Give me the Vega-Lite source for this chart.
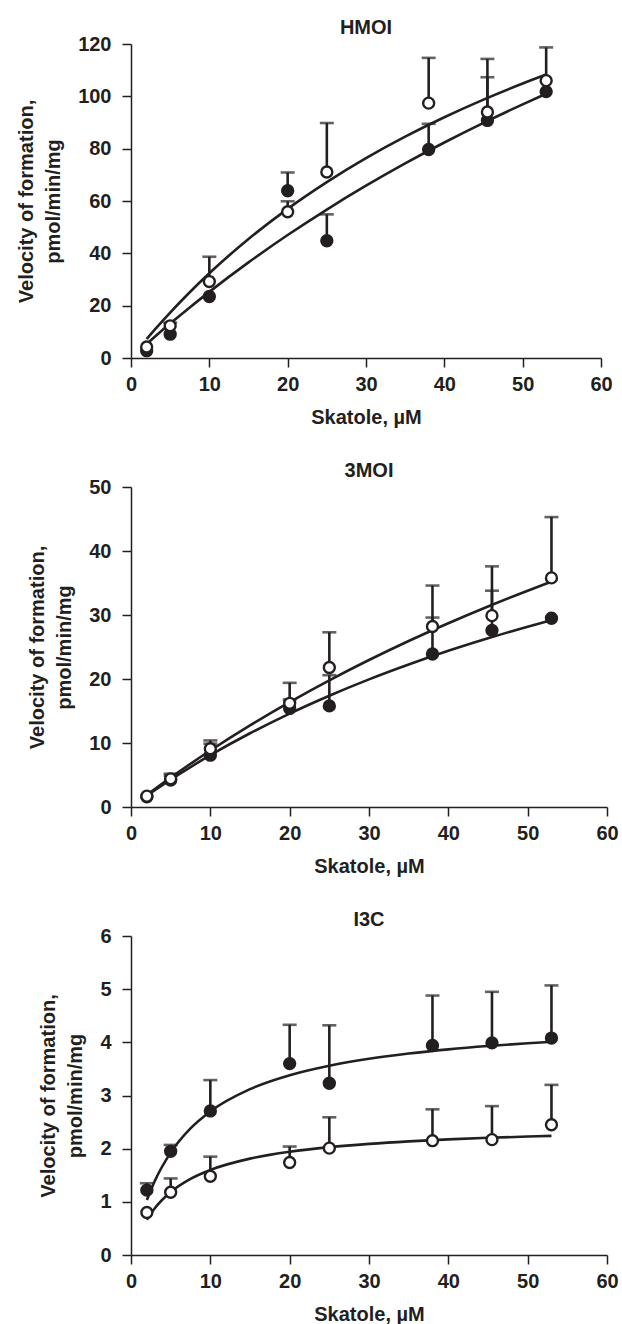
{
  "$schema": "https://vega.github.io/schema/vega-lite/v6.json",
  "padding": {"left": 16, "top": 18, "right": 4, "bottom": 0},
  "background": "white",
  "spacing": 34,
  "datasets": {
    "points": [
      {"panel": "HMOI", "series": "filled", "x": 2, "y": 2.8, "top": null},
      {"panel": "HMOI", "series": "filled", "x": 5, "y": 9.1, "top": null},
      {"panel": "HMOI", "series": "filled", "x": 10, "y": 23.5, "top": null},
      {"panel": "HMOI", "series": "filled", "x": 20, "y": 63.9, "top": 70.9},
      {"panel": "HMOI", "series": "filled", "x": 25, "y": 44.8, "top": 54.9},
      {"panel": "HMOI", "series": "filled", "x": 38, "y": 79.7, "top": 89.5},
      {"panel": "HMOI", "series": "filled", "x": 45.5, "y": 90.8, "top": 107.3},
      {"panel": "HMOI", "series": "filled", "x": 53, "y": 101.8, "top": null},
      {"panel": "HMOI", "series": "open", "x": 2, "y": 4.2, "top": null},
      {"panel": "HMOI", "series": "open", "x": 5, "y": 12.3, "top": 13.5},
      {"panel": "HMOI", "series": "open", "x": 10, "y": 29.2, "top": 38.7},
      {"panel": "HMOI", "series": "open", "x": 20, "y": 55.9, "top": 59.9},
      {"panel": "HMOI", "series": "open", "x": 25, "y": 71.1, "top": 89.8},
      {"panel": "HMOI", "series": "open", "x": 38, "y": 97.4, "top": 114.7},
      {"panel": "HMOI", "series": "open", "x": 45.5, "y": 94.0, "top": 114.3},
      {"panel": "HMOI", "series": "open", "x": 53, "y": 106.0, "top": 118.7},
      {"panel": "3MOI", "series": "filled", "x": 2, "y": 1.6, "top": null},
      {"panel": "3MOI", "series": "filled", "x": 5, "y": 4.2, "top": 4.9},
      {"panel": "3MOI", "series": "filled", "x": 10, "y": 8.1, "top": 9.9},
      {"panel": "3MOI", "series": "filled", "x": 20, "y": 15.4, "top": 16.8},
      {"panel": "3MOI", "series": "filled", "x": 25, "y": 15.8, "top": 20.6},
      {"panel": "3MOI", "series": "filled", "x": 38, "y": 23.9, "top": 29.6},
      {"panel": "3MOI", "series": "filled", "x": 45.5, "y": 27.6, "top": 33.8},
      {"panel": "3MOI", "series": "filled", "x": 53, "y": 29.5, "top": null},
      {"panel": "3MOI", "series": "open", "x": 2, "y": 1.7, "top": null},
      {"panel": "3MOI", "series": "open", "x": 5, "y": 4.4, "top": 5.2},
      {"panel": "3MOI", "series": "open", "x": 10, "y": 9.1, "top": 10.4},
      {"panel": "3MOI", "series": "open", "x": 20, "y": 16.2, "top": 19.4},
      {"panel": "3MOI", "series": "open", "x": 25, "y": 21.8, "top": 27.3},
      {"panel": "3MOI", "series": "open", "x": 38, "y": 28.2, "top": 34.6},
      {"panel": "3MOI", "series": "open", "x": 45.5, "y": 29.9, "top": 37.6},
      {"panel": "3MOI", "series": "open", "x": 53, "y": 35.8, "top": 45.3},
      {"panel": "I3C", "series": "filled", "x": 2, "y": 1.22, "top": 1.35},
      {"panel": "I3C", "series": "filled", "x": 5, "y": 1.95, "top": 2.07},
      {"panel": "I3C", "series": "filled", "x": 10, "y": 2.71, "top": 3.29},
      {"panel": "I3C", "series": "filled", "x": 20, "y": 3.6, "top": 4.33},
      {"panel": "I3C", "series": "filled", "x": 25, "y": 3.23, "top": 4.32},
      {"panel": "I3C", "series": "filled", "x": 38, "y": 3.94, "top": 4.88},
      {"panel": "I3C", "series": "filled", "x": 45.5, "y": 3.99, "top": 4.95},
      {"panel": "I3C", "series": "filled", "x": 53, "y": 4.08, "top": 5.07},
      {"panel": "I3C", "series": "open", "x": 2, "y": 0.8, "top": null},
      {"panel": "I3C", "series": "open", "x": 5, "y": 1.18, "top": 1.44},
      {"panel": "I3C", "series": "open", "x": 10, "y": 1.48, "top": 1.85},
      {"panel": "I3C", "series": "open", "x": 20, "y": 1.74, "top": 2.04},
      {"panel": "I3C", "series": "open", "x": 25, "y": 2.01, "top": 2.59},
      {"panel": "I3C", "series": "open", "x": 38, "y": 2.15, "top": 2.74},
      {"panel": "I3C", "series": "open", "x": 45.5, "y": 2.17, "top": 2.8},
      {"panel": "I3C", "series": "open", "x": 53, "y": 2.45, "top": 3.2}
    ],
    "curves": [
      {"panel": "HMOI", "series": "filled", "x": 2, "y": 5.38},
      {"panel": "HMOI", "series": "filled", "x": 3, "y": 8.01},
      {"panel": "HMOI", "series": "filled", "x": 5, "y": 13.14},
      {"panel": "HMOI", "series": "filled", "x": 7.5, "y": 19.33},
      {"panel": "HMOI", "series": "filled", "x": 10, "y": 25.28},
      {"panel": "HMOI", "series": "filled", "x": 15, "y": 36.53},
      {"panel": "HMOI", "series": "filled", "x": 20, "y": 46.99},
      {"panel": "HMOI", "series": "filled", "x": 25, "y": 56.74},
      {"panel": "HMOI", "series": "filled", "x": 30, "y": 65.84},
      {"panel": "HMOI", "series": "filled", "x": 35, "y": 74.36},
      {"panel": "HMOI", "series": "filled", "x": 40, "y": 82.35},
      {"panel": "HMOI", "series": "filled", "x": 45, "y": 89.87},
      {"panel": "HMOI", "series": "filled", "x": 50, "y": 96.94},
      {"panel": "HMOI", "series": "filled", "x": 53, "y": 100.99},
      {"panel": "HMOI", "series": "open", "x": 2, "y": 7.27},
      {"panel": "HMOI", "series": "open", "x": 3, "y": 10.73},
      {"panel": "HMOI", "series": "open", "x": 5, "y": 17.37},
      {"panel": "HMOI", "series": "open", "x": 7.5, "y": 25.14},
      {"panel": "HMOI", "series": "open", "x": 10, "y": 32.38},
      {"panel": "HMOI", "series": "open", "x": 15, "y": 45.48},
      {"panel": "HMOI", "series": "open", "x": 20, "y": 57.01},
      {"panel": "HMOI", "series": "open", "x": 25, "y": 67.24},
      {"panel": "HMOI", "series": "open", "x": 30, "y": 76.38},
      {"panel": "HMOI", "series": "open", "x": 35, "y": 84.59},
      {"panel": "HMOI", "series": "open", "x": 40, "y": 92.01},
      {"panel": "HMOI", "series": "open", "x": 45, "y": 98.74},
      {"panel": "HMOI", "series": "open", "x": 50, "y": 104.89},
      {"panel": "HMOI", "series": "open", "x": 53, "y": 108.32},
      {"panel": "3MOI", "series": "filled", "x": 2, "y": 1.77},
      {"panel": "3MOI", "series": "filled", "x": 3, "y": 2.63},
      {"panel": "3MOI", "series": "filled", "x": 5, "y": 4.28},
      {"panel": "3MOI", "series": "filled", "x": 7.5, "y": 6.24},
      {"panel": "3MOI", "series": "filled", "x": 10, "y": 8.1},
      {"panel": "3MOI", "series": "filled", "x": 15, "y": 11.52},
      {"panel": "3MOI", "series": "filled", "x": 20, "y": 14.6},
      {"panel": "3MOI", "series": "filled", "x": 25, "y": 17.39},
      {"panel": "3MOI", "series": "filled", "x": 30, "y": 19.94},
      {"panel": "3MOI", "series": "filled", "x": 35, "y": 22.26},
      {"panel": "3MOI", "series": "filled", "x": 40, "y": 24.4},
      {"panel": "3MOI", "series": "filled", "x": 45, "y": 26.36},
      {"panel": "3MOI", "series": "filled", "x": 50, "y": 28.17},
      {"panel": "3MOI", "series": "filled", "x": 53, "y": 29.2},
      {"panel": "3MOI", "series": "open", "x": 2, "y": 1.88},
      {"panel": "3MOI", "series": "open", "x": 3, "y": 2.8},
      {"panel": "3MOI", "series": "open", "x": 5, "y": 4.59},
      {"panel": "3MOI", "series": "open", "x": 7.5, "y": 6.75},
      {"panel": "3MOI", "series": "open", "x": 10, "y": 8.83},
      {"panel": "3MOI", "series": "open", "x": 15, "y": 12.76},
      {"panel": "3MOI", "series": "open", "x": 20, "y": 16.4},
      {"panel": "3MOI", "series": "open", "x": 25, "y": 19.8},
      {"panel": "3MOI", "series": "open", "x": 30, "y": 22.97},
      {"panel": "3MOI", "series": "open", "x": 35, "y": 25.94},
      {"panel": "3MOI", "series": "open", "x": 40, "y": 28.72},
      {"panel": "3MOI", "series": "open", "x": 45, "y": 31.34},
      {"panel": "3MOI", "series": "open", "x": 50, "y": 33.8},
      {"panel": "3MOI", "series": "open", "x": 53, "y": 35.21},
      {"panel": "I3C", "series": "filled", "x": 2, "y": 1.034},
      {"panel": "I3C", "series": "filled", "x": 3, "y": 1.392},
      {"panel": "I3C", "series": "filled", "x": 5, "y": 1.925},
      {"panel": "I3C", "series": "filled", "x": 7.5, "y": 2.381},
      {"panel": "I3C", "series": "filled", "x": 10, "y": 2.7},
      {"panel": "I3C", "series": "filled", "x": 15, "y": 3.119},
      {"panel": "I3C", "series": "filled", "x": 20, "y": 3.381},
      {"panel": "I3C", "series": "filled", "x": 25, "y": 3.56},
      {"panel": "I3C", "series": "filled", "x": 30, "y": 3.691},
      {"panel": "I3C", "series": "filled", "x": 35, "y": 3.79},
      {"panel": "I3C", "series": "filled", "x": 40, "y": 3.868},
      {"panel": "I3C", "series": "filled", "x": 45, "y": 3.931},
      {"panel": "I3C", "series": "filled", "x": 50, "y": 3.983},
      {"panel": "I3C", "series": "filled", "x": 53, "y": 4.01},
      {"panel": "I3C", "series": "open", "x": 2, "y": 0.664},
      {"panel": "I3C", "series": "open", "x": 3, "y": 0.878},
      {"panel": "I3C", "series": "open", "x": 5, "y": 1.183},
      {"panel": "I3C", "series": "open", "x": 7.5, "y": 1.432},
      {"panel": "I3C", "series": "open", "x": 10, "y": 1.6},
      {"panel": "I3C", "series": "open", "x": 15, "y": 1.813},
      {"panel": "I3C", "series": "open", "x": 20, "y": 1.942},
      {"panel": "I3C", "series": "open", "x": 25, "y": 2.029},
      {"panel": "I3C", "series": "open", "x": 30, "y": 2.091},
      {"panel": "I3C", "series": "open", "x": 35, "y": 2.138},
      {"panel": "I3C", "series": "open", "x": 40, "y": 2.174},
      {"panel": "I3C", "series": "open", "x": 45, "y": 2.204},
      {"panel": "I3C", "series": "open", "x": 50, "y": 2.228},
      {"panel": "I3C", "series": "open", "x": 53, "y": 2.24}
    ]
  },
  "vconcat": [
    {
      "width": 470, "height": 314,
      "title": "HMOI",
      "encoding": {
        "x": {"field": "x", "type": "quantitative", "scale": {"domain": [0, 60], "nice": false}, "axis": {"values": [0, 10, 20, 30, 40, 50, 60], "title": "Skatole, µM"}},
        "y": {"field": "y", "type": "quantitative", "scale": {"domain": [0, 120], "nice": false}, "axis": {"values": [0, 20, 40, 60, 80, 100, 120], "title": ["Velocity of formation,", "pmol/min/mg"]}}
      },
      "layer": [
        {"data": {"name": "curves"}, "transform": [{"filter": "datum.panel === 'HMOI'"}], "mark": {"type": "line", "stroke": "#231f20", "strokeWidth": 2.6, "interpolate": "monotone"}, "encoding": {"detail": {"field": "series"}}},
        {"data": {"name": "points"}, "transform": [{"filter": "datum.panel === 'HMOI' && isValid(datum.top)"}], "mark": {"type": "rule", "stroke": "#231f20", "strokeWidth": 2.6}, "encoding": {"y2": {"field": "top"}}},
        {"data": {"name": "points"}, "transform": [{"filter": "datum.panel === 'HMOI' && isValid(datum.top)"}], "mark": {"type": "tick", "orient": "horizontal", "size": 14, "thickness": 2.6, "color": "#231f20"}, "encoding": {"y": {"field": "top", "type": "quantitative"}}},
        {"data": {"name": "points"}, "transform": [{"filter": "datum.panel === 'HMOI'"}], "mark": {"type": "circle", "size": 120, "stroke": "#231f20", "strokeWidth": 2.4, "opacity": 1}, "encoding": {"fill": {"field": "series", "type": "nominal", "scale": {"domain": ["filled", "open"], "range": ["#231f20", "#ffffff"]}, "legend": null}}}
      ]
    },
    {
      "width": 476, "height": 320,
      "title": "3MOI",
      "encoding": {
        "x": {"field": "x", "type": "quantitative", "scale": {"domain": [0, 60], "nice": false}, "axis": {"values": [0, 10, 20, 30, 40, 50, 60], "title": "Skatole, µM"}},
        "y": {"field": "y", "type": "quantitative", "scale": {"domain": [0, 50], "nice": false}, "axis": {"values": [0, 10, 20, 30, 40, 50], "title": ["Velocity of formation,", "pmol/min/mg"]}}
      },
      "layer": [
        {"data": {"name": "curves"}, "transform": [{"filter": "datum.panel === '3MOI'"}], "mark": {"type": "line", "stroke": "#231f20", "strokeWidth": 2.6, "interpolate": "monotone"}, "encoding": {"detail": {"field": "series"}}},
        {"data": {"name": "points"}, "transform": [{"filter": "datum.panel === '3MOI' && isValid(datum.top)"}], "mark": {"type": "rule", "stroke": "#231f20", "strokeWidth": 2.6}, "encoding": {"y2": {"field": "top"}}},
        {"data": {"name": "points"}, "transform": [{"filter": "datum.panel === '3MOI' && isValid(datum.top)"}], "mark": {"type": "tick", "orient": "horizontal", "size": 14, "thickness": 2.6, "color": "#231f20"}, "encoding": {"y": {"field": "top", "type": "quantitative"}}},
        {"data": {"name": "points"}, "transform": [{"filter": "datum.panel === '3MOI'"}], "mark": {"type": "circle", "size": 120, "stroke": "#231f20", "strokeWidth": 2.4, "opacity": 1}, "encoding": {"fill": {"field": "series", "type": "nominal", "scale": {"domain": ["filled", "open"], "range": ["#231f20", "#ffffff"]}, "legend": null}}}
      ]
    },
    {
      "width": 476, "height": 319,
      "title": "I3C",
      "encoding": {
        "x": {"field": "x", "type": "quantitative", "scale": {"domain": [0, 60], "nice": false}, "axis": {"values": [0, 10, 20, 30, 40, 50, 60], "title": "Skatole, µM"}},
        "y": {"field": "y", "type": "quantitative", "scale": {"domain": [0, 6], "nice": false}, "axis": {"values": [0, 1, 2, 3, 4, 5, 6], "title": ["Velocity of formation,", "pmol/min/mg"]}}
      },
      "layer": [
        {"data": {"name": "curves"}, "transform": [{"filter": "datum.panel === 'I3C'"}], "mark": {"type": "line", "stroke": "#231f20", "strokeWidth": 2.6, "interpolate": "monotone"}, "encoding": {"detail": {"field": "series"}}},
        {"data": {"name": "points"}, "transform": [{"filter": "datum.panel === 'I3C' && isValid(datum.top)"}], "mark": {"type": "rule", "stroke": "#231f20", "strokeWidth": 2.6}, "encoding": {"y2": {"field": "top"}}},
        {"data": {"name": "points"}, "transform": [{"filter": "datum.panel === 'I3C' && isValid(datum.top)"}], "mark": {"type": "tick", "orient": "horizontal", "size": 14, "thickness": 2.6, "color": "#231f20"}, "encoding": {"y": {"field": "top", "type": "quantitative"}}},
        {"data": {"name": "points"}, "transform": [{"filter": "datum.panel === 'I3C'"}], "mark": {"type": "circle", "size": 120, "stroke": "#231f20", "strokeWidth": 2.4, "opacity": 1}, "encoding": {"fill": {"field": "series", "type": "nominal", "scale": {"domain": ["filled", "open"], "range": ["#231f20", "#ffffff"]}, "legend": null}}}
      ]
    }
  ],
  "config": {
    "view": {"stroke": null},
    "font": "Liberation Sans",
    "axis": {
      "grid": false,
      "domainColor": "#231f20", "domainWidth": 1.5,
      "tickColor": "#231f20", "tickWidth": 1.5, "tickSize": 9,
      "labelFont": "Liberation Sans", "labelFontWeight": "bold", "labelFontSize": 20, "labelColor": "#231f20",
      "titleFont": "Liberation Sans", "titleFontWeight": "bold", "titleFontSize": 20, "titleColor": "#231f20"
    },
    "axisX": {"labelPadding": 7, "titlePadding": 13, "labelFlush": false},
    "axisY": {"labelPadding": 11, "titlePadding": 14, "titleLineHeight": 27, "labelFlush": false},
    "title": {"font": "Liberation Sans", "fontSize": 20, "fontWeight": "bold", "color": "#231f20", "offset": -4}
  }
}
